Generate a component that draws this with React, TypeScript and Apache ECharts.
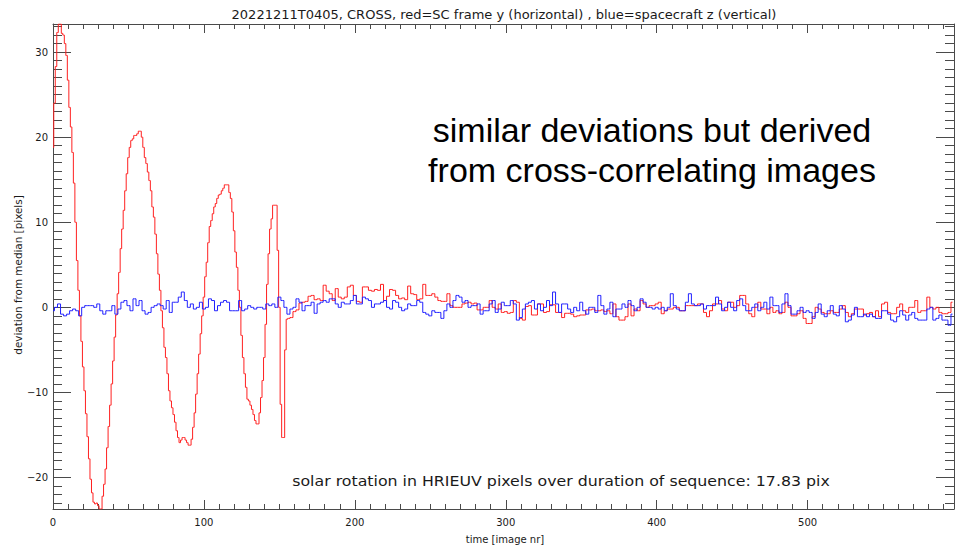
import React, { useEffect, useRef } from "react";
import * as echarts from "echarts";

const TITLE = "20221211T0405, CROSS, red=SC frame y (horizontal) , blue=spacecraft z (vertical)";
const NOTE_LINES = ["similar deviations but derived", "from cross-correlating images"];
const FOOTNOTE = "solar rotation in HRIEUV pixels over duration of sequence: 17.83 pix";
const X_NAME = "time [image nr]";
const Y_NAME = "deviation from median [pixels]";

const X_MIN = 0;
const X_MAX = 597;
const Y_MIN = -23.7;
const Y_MAX = 33.3;
const X_MAJOR = [0, 100, 200, 300, 400, 500];
const Y_MAJOR = [-20, -10, 0, 10, 20, 30];
const X_MINOR_STEP = 10;
const Y_MINOR_STEP = 1;

// red (SC frame y): one value per image, images 0..155
const redEarly = [
  18.8, 24.0, 28.3, 32.3, 33.3, 33.3, 32.2, 32.0, 31.0, 29.6,
  26.7, 23.5, 21.2, 18.2, 14.6, 10.0, 5.5, 2.0, -1.0, -4.0,
  -7.0, -9.8, -12.5, -15.2, -17.8, -20.2, -21.8, -22.9, -23.1, -23.0,
  -23.3, -23.7, -23.7, -22.2, -20.8, -19.0, -16.5, -14.0, -11.5, -9.0,
  -6.3, -3.5, -0.9, 1.6, 4.1, 6.9, 9.2, 11.4, 13.7, 15.7,
  17.6, 18.8, 19.6, 19.8, 20.2, 20.2, 20.4, 20.7, 20.7, 20.0,
  18.8, 17.6, 16.9, 15.9, 14.9, 13.7, 11.8, 10.6, 8.6, 6.3,
  3.9, 2.0, -0.4, -2.4, -4.7, -5.9, -7.8, -9.8, -11.0, -11.8,
  -12.6, -13.5, -14.5, -15.3, -15.9, -15.6, -15.3, -15.3, -15.6, -15.9,
  -16.2, -16.2, -15.5, -14.1, -12.4, -10.2, -7.8, -5.5, -3.1, -1.0,
  1.2, 3.6, 5.3, 7.6, 9.5, 10.2, 11.0, 11.8, 12.2, 12.8,
  13.2, 13.3, 13.7, 14.0, 14.4, 14.4, 14.4, 13.5, 12.8, 11.2,
  9.0, 6.5, 4.7, 2.0, 0.0, -3.3, -5.9, -7.8, -9.4, -10.8,
  -11.0, -11.5, -12.0, -12.6, -13.3, -13.7, -13.7, -12.4, -10.6, -8.6,
  -5.9, -2.0, 2.7, 6.3, 9.2, 10.4, 12.0, 12.0, 12.0, 6.7,
  0.0, -11.4, -15.3, -15.3, -5.0, -1.4,
];

// red: images 156..596, every second image
const RED_LATE_START = 156;
const redLate = [
  -1.3, -1.2, -0.5, -0.3, 0.5, 0.6, 0.7, 1.3, 1.4, 0.9,
  1.0, 0.8, 2.6, 1.9, 1.6, 0.8, 2.2, 1.2, 1.0, 1.2,
  2.4, 2.6, 1.4, 0.7, 0.6, 2.4, 2.4, 2.0, 1.9, 2.1,
  2.0, 2.7, 0.8, 1.3, 2.1, 2.0, 1.4, 1.0, 1.1, 0.9,
  2.5, 1.6, 1.5, 0.9, 1.0, 2.7, 1.4, 1.4, 1.6, 1.2,
  0.8, 0.7, 0.7, 1.6, 0.2, 0.0, 0.0, 0.0, 0.4, 0.5,
  0.6, 0.4, 0.5, -0.3, -0.3, 0.0, 0.0, 0.8, 0.0, -0.2,
  0.4, -0.6, -0.5, -0.7, -0.6, 0.8, 0.6, -1.3, -1.5, 0.1,
  0.2, -0.9, -0.9, 0.4, 0.4, -0.6, -0.5, 0.3, 0.3, -0.6,
  -0.6, -1.2, -0.7, -0.7, -0.8, -1.1, -1.0, -0.9, -0.9, -0.3,
  -0.3, -0.2, -0.4, -0.4, -0.3, -0.5, -0.4, -0.75, 0.4, -1.1,
  -1.5, -1.5, -1.1, 0.4, -1.0, -0.2, -0.4, 0.8, 0.4, 0.0,
  0.2, 0.2, 0.4, 0.6, -0.75, -0.4, -0.2, -0.2, 0.0, 0.0,
  -0.4, -0.4, 0.2, 0.2, 0.2, 0.2, 0.4, 0.4, -0.6, -1.1,
  -0.4, 0.4, 0.4, 0.8, -0.2, -0.4, 0.6, 0.6, 0.0, 0.2,
  1.4, 1.4, 0.4, -0.75, -1.1, 0.0, 0.6, -0.2, -0.2, -0.75,
  0.0, -0.6, -0.4, -0.75, -0.6, 0.6, 0.0, -1.0, -1.0, -0.75,
  -0.4, -1.3, -1.9, -1.9, -1.1, 0.0, -0.2, -0.6, -0.75, -0.75,
  -0.4, -0.6, -0.6, -0.2, 0.2, -0.6, -1.1, -0.75, -0.2, -0.2,
  -0.2, -0.9, -0.75, -0.6, -1.1, -0.4, -1.1, 0.4, 0.6, -0.6,
  -0.75, -0.75, 0.0, 0.4, -0.4, -0.6, 0.0, 0.0, 0.8, -0.6,
  -0.4, -0.4, 1.2, 0.0, -0.2, 0.0, -0.6, -0.75, -0.75, -0.6,
  0.6,
];

// blue (spacecraft z): images 0..596, every second image
const BLUE_STEP = 2;
const blue = [
  -0.4, 0.0, 0.4, -0.8, -1.0, -0.8, -0.4, -0.2, -0.4, -1.0,
  0.0, 0.2, 0.2, 0.2, 0.0, 0.4, -0.4, -0.8, -0.4, -0.4,
  0.2, -0.8, -0.2, 0.6, 0.8, 0.2, -0.4, 1.0, 0.2, 0.8,
  -0.4, -0.8, -0.6, 0.0, 0.2, 0.4, 0.2, -0.2, 0.8, -0.6,
  0.6, 0.6, 1.2, 1.8, 0.8, 0.0, 0.4, -0.2, 0.0, 0.6,
  -0.2, 0.0, 1.0, 0.8, -0.4, 0.2, 0.6, 0.8, 0.6, -0.4,
  -0.4, -0.4, 0.8, -0.4, -0.2, 0.2, 0.0, -0.2, 0.0, 0.0,
  -0.2, 0.4, 0.2, 0.4, 0.0, 1.2, 0.8, 0.0, -0.8, -0.2,
  0.0, 1.0, 0.6, -0.4, 0.2, 0.2, 0.6, -0.7, 0.4, 0.6,
  0.8, 0.6, 1.0, 1.0, 0.4, 0.0, 0.6, 0.4, 0.4, 0.8,
  1.4, 0.4, 0.4, 1.2, 1.0, 0.8, 0.0, 0.4, 0.4, 0.6,
  0.8, 0.0, -0.2, 0.8, 0.6, 0.0, -0.4, -0.2, 0.4, 0.2,
  0.2, 0.8, 0.6, -0.6, -0.8, -1.0, -0.4, -0.6, -0.6, -1.3,
  -0.4, 0.4, 0.0, 0.8, 1.4, 1.2, 0.6, 0.8, 0.0, 0.2,
  0.2, 0.4, -0.8, -0.4, -0.4, 0.4, 0.8, -0.6, -0.2, 0.6,
  0.2, 0.2, 0.8, 0.4, -1.5, -1.2, -0.2, 0.4, 0.6, 0.8,
  -0.2, 0.4, -0.4, 0.0, 0.8, 0.2, 1.8, 0.4, -0.6, 0.4,
  0.4, -0.2, -0.6, 0.0, -0.4, 0.6, -0.4, -0.8, 0.0, 0.0,
  -0.6, 1.4, 0.2, -0.8, -0.2, 0.6, -1.1, -0.2, -0.2, 0.4,
  0.0, 0.8, 0.2, -0.4, 0.0, 1.0, 0.6, 0.0, 0.0, -0.2,
  0.0, -0.2, 0.0, -0.4, 0.0, 1.6, 0.2, -0.2, -0.4, -0.4,
  0.6, 1.6, 0.4, 0.2, 0.2, 0.4, -0.2, 0.2, 0.2, 0.2,
  1.2, 0.4, -0.4, 0.0, 0.6, 0.0, -0.4, 0.8, 1.0, 0.2,
  -0.4, -0.4, 0.0, 0.4, -0.4, 0.0, 0.6, -0.2, 1.2, 0.2,
  0.2, -0.6, 0.4, 1.6, 0.2, -0.8, -0.8, -0.4, 0.0, -0.6,
  -0.4, -0.6, -1.3, -0.6, 0.4, -0.8, -1.1, -0.4, 0.2, -0.8,
  -1.0, 0.2, -0.2, -1.7, -1.5, -0.9, 0.0, -1.1, -1.1, -0.8,
  -1.1, -0.8, -1.1, -1.3, -1.3, -0.4, -0.4, -0.8, -1.5, -1.7,
  -1.1, -0.4, -0.9, -1.5, -0.9, -0.6, -1.3, -1.5, -1.5, -1.5,
  -0.2, 0.0, -1.5, -1.3, -0.9, -1.5, -1.5, -2.1, -0.8,
];

const AXIS_COLOR = "#4a4a4a";
const TEXT_COLOR = "#1a1a1a";
const FONT = "DejaVu Sans";

function range(from: number, to: number, step: number, skipEvery: number) {
  const out: number[] = [];
  for (let v = from; v <= to + 1e-9; v += step) {
    const r = Math.round(v * 1000) / 1000;
    if (Math.abs(r % skipEvery) > 1e-9) out.push(r);
  }
  return out;
}

export default function App() {
  const ref = useRef<HTMLDivElement>(null);

  useEffect(() => {
    document.body.style.margin = "0";
    if (!ref.current) return;
    const chart = echarts.init(ref.current, null, { renderer: "svg" });

    const redData = redEarly
      .map((v, i) => [i, v])
      .concat(redLate.map((v, k) => [RED_LATE_START + 2 * k, v]));
    const blueData = blue.map((v, k) => [BLUE_STEP * k, v]);

    const xMinor = range(Math.ceil(X_MIN / X_MINOR_STEP) * X_MINOR_STEP, X_MAX, X_MINOR_STEP, 100);
    const yMinor = range(Math.ceil(Y_MIN), Y_MAX, Y_MINOR_STEP, 10);

    const baseX = (position: "top" | "bottom", ticks: number[], len: number, showLine: boolean, labels: boolean) => ({
      type: "value" as const,
      position,
      min: X_MIN,
      max: X_MAX,
      axisLine: { show: showLine, onZero: false, lineStyle: { color: AXIS_COLOR, width: 1 } },
      axisTick: { show: true, inside: true, length: len, customValues: ticks, lineStyle: { color: AXIS_COLOR, width: 1 } },
      axisLabel: labels
        ? { show: true, customValues: ticks, margin: 8, fontSize: 10, fontFamily: FONT, color: TEXT_COLOR }
        : { show: false },
      splitLine: { show: false },
    });
    const baseY = (position: "left" | "right", ticks: number[], len: number, showLine: boolean, labels: boolean) => ({
      type: "value" as const,
      position,
      min: Y_MIN,
      max: Y_MAX,
      axisLine: { show: showLine, onZero: false, lineStyle: { color: AXIS_COLOR, width: 1 } },
      axisTick: { show: true, inside: true, length: len, customValues: ticks, lineStyle: { color: AXIS_COLOR, width: 1 } },
      axisLabel: labels
        ? {
            show: true,
            customValues: ticks,
            margin: 5,
            fontSize: 10,
            fontFamily: FONT,
            color: TEXT_COLOR,
            formatter: (v: number) => String(v).replace("-", "\u2212"),
          }
        : { show: false },
      splitLine: { show: false },
    });

    chart.setOption({
      animation: false,
      backgroundColor: "#ffffff",
      grid: { left: 53, right: 1, top: 24, bottom: 37, containLabel: false },
      xAxis: [
        baseX("bottom", X_MAJOR, 9, true, true),
        baseX("bottom", xMinor, 5, false, false),
        baseX("top", X_MAJOR, 9, true, false),
        baseX("top", xMinor, 5, false, false),
      ],
      yAxis: [
        baseY("left", Y_MAJOR, 18, true, true),
        baseY("left", yMinor, 9, false, false),
        baseY("right", Y_MAJOR, 18, true, false),
        baseY("right", yMinor, 9, false, false),
      ],
      series: [
        {
          name: "red=SC frame y (horizontal)",
          type: "line",
          step: "middle",
          data: redData,
          xAxisIndex: 0,
          yAxisIndex: 0,
          symbol: "none",
          showSymbol: false,
          clip: true,
          lineStyle: { color: "#ff2020", width: 1 },
          itemStyle: { color: "#ff2020" },
          z: 3,
        },
        {
          name: "blue=spacecraft z (vertical)",
          type: "line",
          step: "middle",
          data: blueData,
          xAxisIndex: 0,
          yAxisIndex: 0,
          symbol: "none",
          showSymbol: false,
          clip: true,
          lineStyle: { color: "#2020ff", width: 1 },
          itemStyle: { color: "#2020ff" },
          z: 4,
        },
      ],
      graphic: [
        {
          type: "text",
          x: 504,
          y: 14,
          style: { text: TITLE, fontSize: 13, fontFamily: FONT, fill: TEXT_COLOR, align: "center", verticalAlign: "middle" },
        },
        {
          type: "text",
          x: 652,
          y: 130,
          style: { text: NOTE_LINES[0], fontSize: 34, fontFamily: "Liberation Sans", fill: "#000", align: "center", verticalAlign: "middle" },
        },
        {
          type: "text",
          x: 652,
          y: 170,
          style: { text: NOTE_LINES[1], fontSize: 34, fontFamily: "Liberation Sans", fill: "#000", align: "center", verticalAlign: "middle" },
        },
        {
          type: "text",
          x: 561,
          y: 481,
          scaleX: 1.17,
          style: { text: FOOTNOTE, fontSize: 13.5, fontFamily: FONT, fill: TEXT_COLOR, align: "center", verticalAlign: "middle" },
        },
        {
          type: "text",
          x: 505,
          y: 539,
          style: { text: X_NAME, fontSize: 10, fontFamily: FONT, fill: TEXT_COLOR, align: "center", verticalAlign: "middle" },
        },
        {
          type: "text",
          x: 18,
          y: 275,
          rotation: Math.PI / 2,
          style: { text: Y_NAME, fontSize: 10.4, fontFamily: FONT, fill: TEXT_COLOR, align: "center", verticalAlign: "middle" },
        },
      ],
    });

    return () => chart.dispose();
  }, []);

  return <div ref={ref} style={{ width: 955, height: 546 }} />;
}
